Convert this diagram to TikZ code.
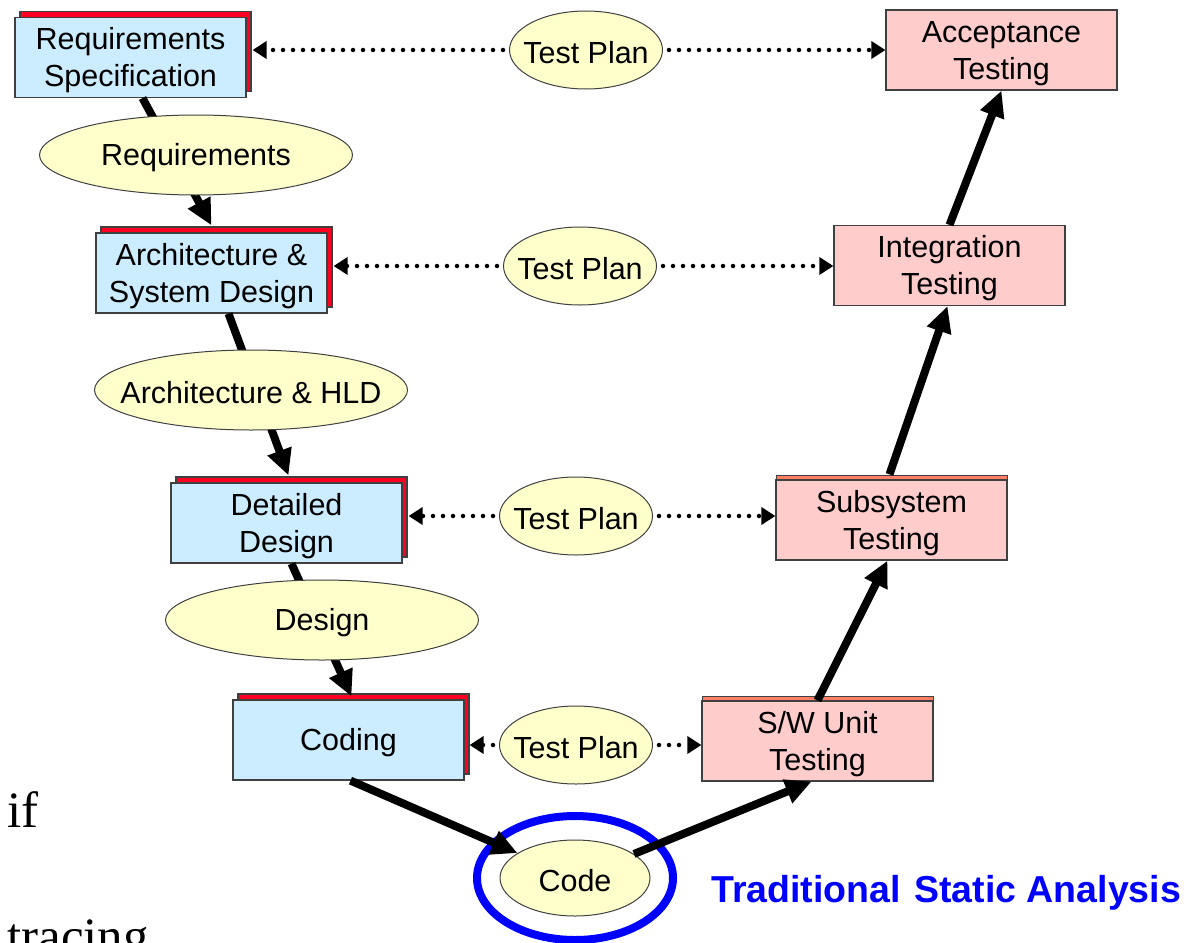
\documentclass[tikz,border=0pt]{standalone}
\usepackage{fontspec}
\setmainfont{Liberation Sans}
\newfontfamily\timesf{Liberation Serif}
\usetikzlibrary{arrows.meta,shapes.geometric,shadows,calc}
\definecolor{blueF}{HTML}{CCECFF}
\definecolor{pinkF}{HTML}{FFCCCC}
\definecolor{yellowF}{HTML}{FFFFCC}
\definecolor{redS}{HTML}{FF0022}
\definecolor{salmonS}{HTML}{FF7F66}
\definecolor{edgeC}{HTML}{404040}
\newcommand{\boxfont}{\fontsize{30.5}{37}\selectfont}
\newcommand{\ztext}[1]{\raisebox{-2.5pt}[\height][\depth]{\makebox[0pt]{#1}}}
\newcommand{\btext}[1]{\raisebox{-3.5pt}[\height][\depth]{\begin{tabular}{@{}c@{}}#1\end{tabular}}}
\tikzset{
  box/.style={draw=edgeC, line width=1.2pt, minimum width=231pt, minimum height=80pt,
    inner sep=0pt, font=\boxfont},
  bluebox/.style={box, fill=blueF,
    copy shadow={shadow xshift=5pt, shadow yshift=6pt, fill=redS, draw=edgeC, line width=1.2pt}},
  pinkbox/.style={box, fill=pinkF},
  pinkshbox/.style={box, fill=pinkF,
    copy shadow={shadow xshift=0pt, shadow yshift=5pt, fill=salmonS, draw=edgeC, line width=1pt}},
  ell/.style={ellipse, draw=edgeC, line width=1pt, fill=yellowF, inner sep=0pt, font=\boxfont},
  tpell/.style={ell, minimum width=153pt, minimum height=78pt},
  bigell/.style={ell, minimum width=313pt, minimum height=80pt},
  thk/.style={line width=8pt, -{Triangle[length=26pt,width=24pt]}},
  dotarr/.style={line width=4.5pt, dash pattern=on 0pt off 10pt, line cap=round,
    shorten <=6pt, -{Triangle[length=14pt,width=17pt]}},
}
\begin{document}
\begin{tikzpicture}[x=1pt,y=-1pt]
\useasboundingbox (0,0) rectangle (1201,942);
\clip (0,0) rectangle (1201,942);

% boxes
\node[bluebox] (rs)  at (130.5,57.5) {\btext{Requirements\\Specification}};
\node[bluebox] (asd) at (211.5,273)  {\btext{Architecture \&\\System Design}};
\node[bluebox] (dd)  at (286.5,523)  {\btext{Detailed\\Design}};
\node[bluebox] (cod) at (348.5,740)  {\btext{Coding}};
\node[pinkbox] (at)  at (1001.5,50)  {\btext{Acceptance\\Testing}};
\node[pinkbox] (it)  at (949.5,265.5) {\btext{Integration\\Testing}};
\node[pinkshbox] (st)  at (891.5,520)  {\btext{Subsystem\\Testing}};
\node[pinkshbox] (su)  at (817.5,741)  {\btext{S/W Unit\\Testing}};

% blue ring around code
\node[ellipse, draw=blue, line width=8pt, minimum width=196pt, minimum height=124pt] (ring) at (575,878) {};

% thick arrows (drawn below ellipses)
\draw[thk] ($(rs.south)+(12,0)$) -- ($(asd.north)+(0,-7)$);
\draw[thk] ($(asd.south)+(17,0)$) -- ($(dd.north)+(2,-7)$);
\draw[thk] ($(dd.south)+(5,0)$) -- ($(cod.north)+(3,-3)$);

% ellipses
\node[bigell] (req)  at (196,155) {\ztext{Requirements}};
\node[bigell] (ahld) at (251,390) {\ztext{Architecture \& HLD}};
\node[bigell] (des)  at (322,620) {\ztext{Design}};
\node[tpell] (tp1) at (586,50)  {\ztext{Test Plan}};
\node[tpell] (tp2) at (580,266) {\ztext{Test Plan}};
\node[tpell] (tp3) at (576,516) {\ztext{Test Plan}};
\node[tpell] (tp4) at (576,745) {\ztext{Test Plan}};
\node[ell, minimum width=150pt, minimum height=76pt] (code) at (575,878) {\ztext{Code}};

% thick arrows of the V
\draw[thk] ($(cod.south)+(2,0)$) -- (code);
\draw[thk] (code) -- ($(su.south)+(-6,0)$);
\draw[thk] (su.north) -- ($(st.south)+(-4,0)$);
\draw[thk] ($(st.north)+(-2,-5)$) -- ($(it.south)+(-2,0)$);
\draw[thk] (it.north) -- (at.south);

% dotted test plan arrows
\draw[dotarr] (tp1) -- ($(tp1 -| rs.east)+(6,0)$);
\draw[dotarr] (tp1) -- (tp1 -| at.west);
\draw[dotarr] (tp2) -- ($(tp2 -| asd.east)+(6,0)$);
\draw[dotarr] (tp2) -- (tp2 -| it.west);
\draw[dotarr] (tp3) -- ($(tp3 -| dd.east)+(6,0)$);
\draw[dotarr] (tp3) -- (tp3 -| st.west);
\draw[dotarr] (tp4) -- ($(tp4 -| cod.east)+(5,0)$);
\draw[dotarr] (tp4) -- (tp4 -| su.west);

% labels
\node[anchor=base west, inner sep=0pt, text=blue, font=\fontsize{37.5}{40}\selectfont\bfseries] (tsa) at (711,902) {Traditional\hspace{3pt} Static Analysis};
\node[anchor=base west, inner sep=0pt, font=\timesf\fontsize{51}{55}\selectfont] (ifw) at (7,827) {if};
\node[anchor=base west, inner sep=0pt, font=\timesf\fontsize{51}{55}\selectfont] (trw) at (7,953) {tracing};
\end{tikzpicture}
\end{document}
